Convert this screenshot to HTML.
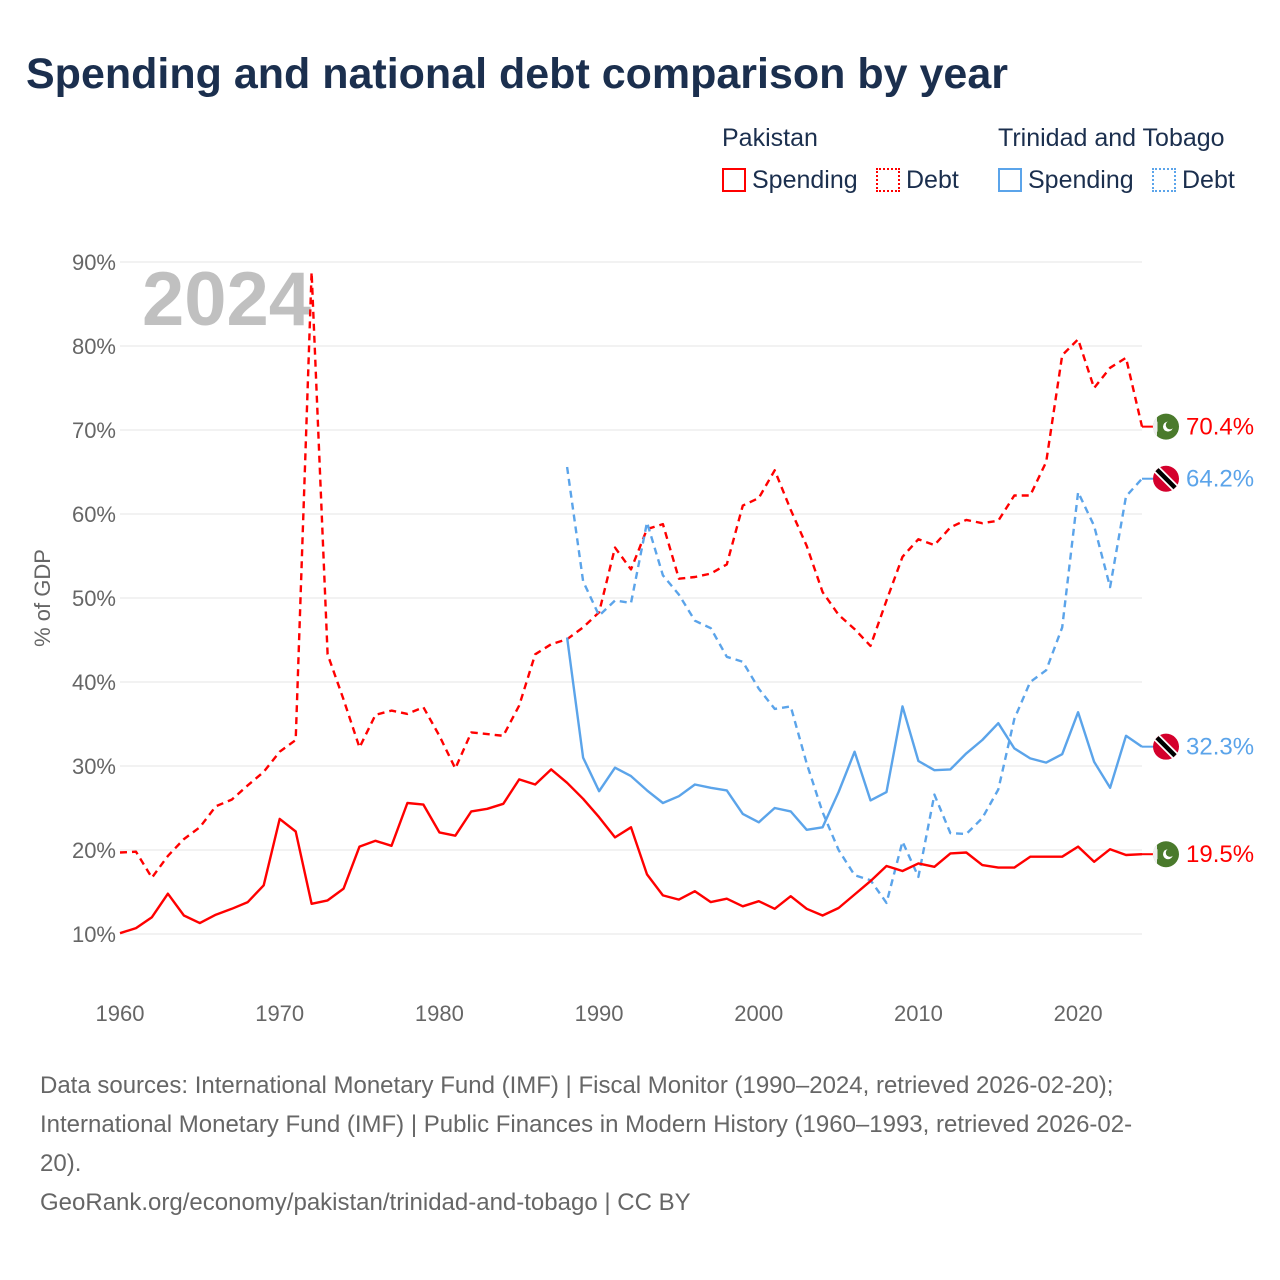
<!DOCTYPE html>
<html><head><meta charset="utf-8"><style>
body{margin:0;background:#fff;font-family:"Liberation Sans",sans-serif;}
#wrap{position:relative;width:1280px;height:1280px;overflow:hidden}
.t{position:absolute;white-space:nowrap}
</style></head><body><div id="wrap">
<div class="t" style="left:26px;top:50px;font-size:43px;font-weight:bold;color:#1b2f4e">Spending and national debt comparison by year</div>
<div class="t" style="left:722px;top:124px;font-size:25px;color:#1b2f4e">Pakistan</div>
<div class="t" style="left:998px;top:124px;font-size:25px;color:#1b2f4e">Trinidad and Tobago</div>
<div class="t" style="left:722px;top:166px;font-size:25px;color:#1b2f4e"><span style="display:inline-block;width:20px;height:20px;border:2px solid #f00;vertical-align:-4px;margin-right:6px"></span>Spending</div>
<div class="t" style="left:876px;top:166px;font-size:25px;color:#1b2f4e"><span style="display:inline-block;width:20px;height:20px;border:2px dotted #f00;vertical-align:-4px;margin-right:6px"></span>Debt</div>
<div class="t" style="left:998px;top:166px;font-size:25px;color:#1b2f4e"><span style="display:inline-block;width:20px;height:20px;border:2px solid #5ba4ea;vertical-align:-4px;margin-right:6px"></span>Spending</div>
<div class="t" style="left:1152px;top:166px;font-size:25px;color:#1b2f4e"><span style="display:inline-block;width:20px;height:20px;border:2px dotted #5ba4ea;vertical-align:-4px;margin-right:6px"></span>Debt</div>
<svg id="chart" width="1280" height="1280" style="position:absolute;left:0;top:0"></svg>
<div class="t" style="left:40px;top:1066px;font-size:24px;line-height:39px;color:#666;white-space:normal;width:1200px">Data sources: International Monetary Fund (IMF) | Fiscal Monitor (1990–2024, retrieved 2026-02-20);<br>International Monetary Fund (IMF) | Public Finances in Modern History (1960–1993, retrieved 2026-02-<br>20).<br>GeoRank.org/economy/pakistan/trinidad-and-tobago | CC BY</div>
</div>
<script>
const yTicks=[10,20,30,40,50,60,70,80,90];
const xTicks=[1960,1970,1980,1990,2000,2010,2020];
const pkSpending=[10.1,10.7,12,14.8,12.2,11.3,12.3,13,13.8,15.8,23.7,22.2,13.6,14,15.4,20.4,21.1,20.5,25.6,25.4,22.1,21.7,24.6,24.9,25.5,28.4,27.8,29.6,28,26.1,23.9,21.5,22.7,17.1,14.6,14.1,15.1,13.8,14.2,13.3,13.9,13,14.5,13,12.2,13.1,14.7,16.3,18.1,17.5,18.4,18,19.6,19.7,18.2,17.9,17.9,19.2,19.2,19.2,20.4,18.6,20.1,19.4,19.5];
const pkDebt=[19.7,19.8,16.7,19.3,21.3,22.7,25.2,26,27.7,29.3,31.7,33.1,88.8,43.3,37.9,32.2,36.1,36.6,36.2,37,33.6,29.7,34,33.8,33.6,37.2,43.3,44.5,45.1,46.5,48.3,56,53.4,58.2,58.8,52.3,52.5,52.9,54,61,61.9,65.2,60.5,56.2,50.7,48,46.3,44.3,49.7,54.9,57,56.3,58.4,59.3,58.9,59.2,62.2,62.2,66.2,78.9,80.8,75,77.4,78.6,70.4];
const ttSpending=[45.3,31,27,29.8,28.8,27.1,25.6,26.4,27.8,27.4,27.1,24.3,23.3,25,24.6,22.4,22.7,26.9,31.7,25.9,26.9,37.1,30.6,29.5,29.6,31.5,33.1,35.1,32.1,30.9,30.4,31.4,36.4,30.5,27.4,33.6,32.3];
const ttDebt=[65.6,52,47.9,49.7,49.4,59,52.7,50.4,47.3,46.4,43,42.4,39.2,36.8,37.1,30.3,24.5,20,17,16.4,13.7,21,16.8,26.6,22,21.9,23.8,27.2,35.6,40,41.4,46.5,62.6,58.6,51.3,62.1,64.2];
const pkStart=1960, ttStart=1988;
const NS="http://www.w3.org/2000/svg";
const svg=document.getElementById('chart');
const X=yr=>120+(yr-1960)*(1142-120)/64;
const Y=v=>934-(v-10)*8.4;
function mk(tag,attrs){const e=document.createElementNS(NS,tag);for(const k in attrs)e.setAttribute(k,attrs[k]);svg.appendChild(e);return e;}
yTicks.forEach(v=>{
 const g=mk('line',{x1:120,x2:1142,y1:Y(v),y2:Y(v),stroke:'#e4e4e4','stroke-width':1});
 
 
 const t=mk('text',{x:116,y:Y(v)+8,'text-anchor':'end','font-size':22,fill:'#666','font-family':'Liberation Sans'});
 t.textContent=v+'%';
 
 
});
xTicks.forEach(yr=>{
 const t=mk('text',{x:X(yr),y:1021,'text-anchor':'middle','font-size':22,fill:'#666','font-family':'Liberation Sans'});
 t.textContent=yr;
 
 
});
const yt=mk('text',{x:0,y:0,transform:'translate(50,598) rotate(-90)','text-anchor':'middle','font-size':22,fill:'#666','font-family':'Liberation Sans'});
yt.textContent='% of GDP';


const yr=mk('text',{x:142,y:325,'font-size':76,'font-weight':'bold',fill:'#c0c0c0','font-family':'Liberation Sans'});
yr.textContent='2024';


function series(arr,start,color,dash,name){
 const d=arr.map((v,i)=>(i?'L':'M')+X(start+i).toFixed(1)+','+Y(v).toFixed(1)).join(' ');
 const p=mk('path',{d:d,fill:'none',stroke:color,'stroke-width':2.4,'stroke-linejoin':'round'});
 if(dash)p.setAttribute('stroke-dasharray','7,5');
 
 
 const last=arr[arr.length-1];
 const c=mk('line',{x1:X(start+arr.length-1),x2:1153,y1:Y(last),y2:Y(last),stroke:color,'stroke-width':2});
 
 
}
series(pkDebt,pkStart,'#f00',true,'pakistan-debt-line');
series(ttDebt,ttStart,'#5ba4ea',true,'trinidad-debt-line');
series(ttSpending,ttStart,'#5ba4ea',false,'trinidad-spending-line');
series(pkSpending,pkStart,'#f00',false,'pakistan-spending-line');
function endLabel(arr,start,color,flag,name){
 const v=arr[arr.length-1];const y=Y(v);const cx=1166;
 if(flag==='pk'){
  const c=mk('circle',{cx:cx,cy:y,r:13,fill:'#4a7a2c'});
  
  
  mk('path',{d:`M${cx-9},${y-9.5} A13,13 0 0,0 ${cx-9},${y+9.5} Z`,fill:'#eee'});
  mk('rect',{x:cx-12.5,y:y-5,width:4,height:10,fill:'#eee'});
  mk('circle',{cx:cx+2,cy:y,r:5,fill:'#fff'});mk('circle',{cx:cx+4,cy:y-1.5,r:4.2,fill:'#4a7a2c'});
 }else{
  const c=mk('circle',{cx:cx,cy:y,r:13,fill:'#d4002c'});
  
  
  mk('line',{x1:cx-9,y1:y-9,x2:cx+9,y2:y+9,stroke:'#fff','stroke-width':8});
  mk('line',{x1:cx-9,y1:y-9,x2:cx+9,y2:y+9,stroke:'#000','stroke-width':4.5});
 }
 const t=mk('text',{x:1186,y:y+8,'font-size':24,fill:color,'font-family':'Liberation Sans'});
 t.textContent=v.toFixed(1)+'%';
 
 
}
endLabel(pkDebt,pkStart,'#f00','pk','pakistan-debt');
endLabel(ttDebt,ttStart,'#5ba4ea','tt','trinidad-debt');
endLabel(ttSpending,ttStart,'#5ba4ea','tt','trinidad-spending');
endLabel(pkSpending,pkStart,'#f00','pk','pakistan-spending');
</script></body></html>
